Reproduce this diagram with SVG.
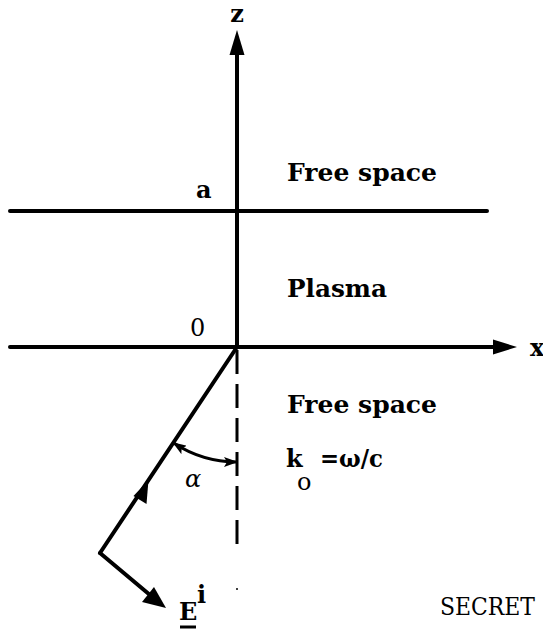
<svg xmlns="http://www.w3.org/2000/svg" width="543" height="631" viewBox="0 0 543 631">
<style>
.ln{stroke:#000;stroke-width:4;fill:none;stroke-linecap:round}
.th{stroke:#000;stroke-width:3;fill:none}
.t{font-family:"DejaVu Serif","Liberation Serif",serif;font-weight:bold;font-size:24px;fill:#000}
.n{font-family:"DejaVu Serif","Liberation Serif",serif;font-size:24px;fill:#000}
</style>
<defs>
<marker id="ah" markerWidth="14" markerHeight="10" refX="13" refY="5" orient="auto-start-reverse" markerUnits="userSpaceOnUse" viewBox="0 0 14 10">
<path d="M0,0 L14,5 L0,10 L3,5 Z" fill="#000"/>
</marker>
</defs>
<rect width="543" height="631" fill="#fff"/>
<g id="connectors">
<line class="ln" x1="10" y1="211" x2="487" y2="211"/>
<line class="ln" x1="10" y1="347" x2="496" y2="347"/>
<polygon points="517,347 493,339.5 493,354.5" fill="#000"/>
<line class="ln" x1="237" y1="347" x2="237" y2="52"/>
<polygon points="237,30 229.5,55 244.5,55" fill="#000"/>
<line class="th" x1="237" y1="350" x2="237" y2="545" stroke-dasharray="24 10"/>
<line class="ln" x1="237" y1="347" x2="100" y2="553"/>
<polygon points="148.5,480 133.5,496 146.5,504" fill="#000"/>
<line class="ln" x1="100" y1="553" x2="150" y2="595"/>
<polygon points="166,608 142,602 154,587" fill="#000"/>
<path class="th" d="M173.3,442.8 A115,115 0 0 0 237,462" marker-start="url(#ah)" marker-end="url(#ah)"/>
<circle cx="237" cy="589" r="1" fill="#000"/>
</g>
<g id="labels">
<text class="t" x="237" y="22" text-anchor="middle">z</text>
<text class="t" x="530" y="356">x</text>
<text class="t" x="196" y="198">a</text>
<text class="n" x="190" y="336">0</text>
<text class="t" x="287" y="181" textLength="150" lengthAdjust="spacingAndGlyphs">Free space</text>
<text class="t" x="287" y="297" textLength="100" lengthAdjust="spacingAndGlyphs">Plasma</text>
<text class="t" x="287" y="413" textLength="150" lengthAdjust="spacingAndGlyphs">Free space</text>
<text class="t" x="286" y="467">k</text>
<text class="n" x="297" y="490">o</text>
<text class="t" x="320" y="467" textLength="63" lengthAdjust="spacingAndGlyphs">=ω/c</text>
<text class="n" x="185" y="487" font-style="italic">α</text>
<text class="t" x="179" y="620" font-size="27">E</text>
<line x1="180" y1="627" x2="196" y2="627" stroke="#000" stroke-width="3"/>
<text class="t" x="197" y="603" font-size="26">i</text>
<text class="n" x="440" y="615" font-size="22" textLength="95" lengthAdjust="spacingAndGlyphs">SECRET</text>
</g>
</svg>
